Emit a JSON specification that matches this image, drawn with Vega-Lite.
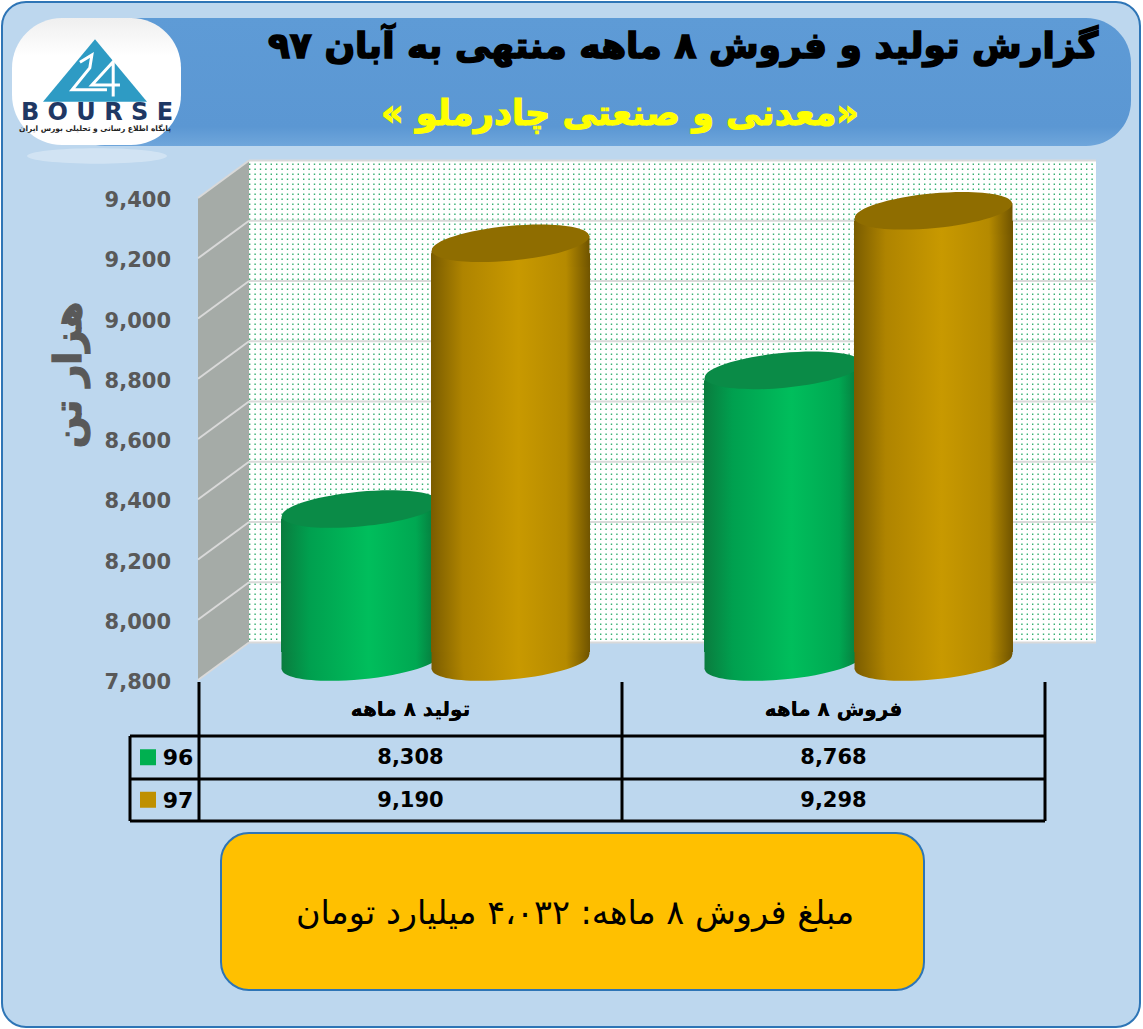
{"$schema":"https://vega.github.io/schema/vega-lite/v6.json","width":1143,"height":1029,"padding":0,"autosize":{"type":"none"},"background":"#FFFFFF","config":{"view":{"stroke":null},"axis":{"domain":false,"ticks":false,"labels":false,"grid":false},"style":{"text":{"font":"DejaVu Sans"}}},
"datasets":{"rows":[{"category":"تولید ۸ ماهه","series":"96","value":8308},{"category":"تولید ۸ ماهه","series":"97","value":9190},{"category":"فروش ۸ ماهه","series":"96","value":8768},{"category":"فروش ۸ ماهه","series":"97","value":9298}],"series":[{"series":"96"},{"series":"97"}],"levels":[{"level":7800},{"level":8000},{"level":8200},{"level":8400},{"level":8600},{"level":8800},{"level":9000},{"level":9200},{"level":9400}],"one":[{"note":"panel"}]},
"layer":[
{"data":{"name":"one"},"layer":[
{"mark":{"type":"rect","fill":"#BDD7EE","stroke":"#2E75B6","strokeWidth":2,"cornerRadius":24},"encoding":{"x":{"datum":2,"type":"quantitative","scale":{"domain":[0,1143],"nice":false,"zero":false}},"x2":{"datum":1140},"y":{"datum":2,"type":"quantitative","scale":{"domain":[1029,0],"nice":false,"zero":false}},"y2":{"datum":1027}}},
{"mark":{"type":"rect","fill":{"gradient":"linear","x1":0,"x2":0,"y1":0,"y2":1,"stops":[{"offset":0,"color":"#5E9BD6"},{"offset":0.85,"color":"#5B97D3"},{"offset":1,"color":"#6FA6DB"}]},"cornerRadius":45},"encoding":{"x":{"datum":60},"x2":{"datum":1131},"y":{"datum":18},"y2":{"datum":146}}},
{"mark":{"type":"point","shape":"M-1,0 C-1,-0.06 -0.5523,-0.11 0,-0.11 C0.5523,-0.11 1,-0.06 1,0 C1,0.06 0.5523,0.11 0,0.11 C-0.5523,0.11 -1,0.06 -1,0 Z","filled":true,"fill":"#FFFFFF","opacity":0.3,"strokeWidth":0,"size":19600},"encoding":{"x":{"datum":97},"y":{"datum":156}}},
{"mark":{"type":"rect","fill":{"gradient":"linear","x1":0,"x2":0,"y1":0,"y2":1,"stops":[{"offset":0,"color":"#EFEFEF"},{"offset":0.3,"color":"#FFFFFF"},{"offset":1,"color":"#FFFFFF"}]},"cornerRadius":50},"encoding":{"x":{"datum":12},"x2":{"datum":181},"y":{"datum":18},"y2":{"datum":145}}},
{"mark":{"type":"point","shape":"M0,-0.6 L1,0.6 L-1,0.6 Z","filled":true,"fill":"#2E9BC4","opacity":1,"strokeWidth":0,"size":10816},"encoding":{"x":{"datum":95},"y":{"datum":70.5}}},
{"mark":{"type":"point","shape":"M-0.29,-0.16 L-0.06,-0.3 L-0.1,-0.05 L-0.44,0.37 L0.23,0.37 M0.38,-0.2 L-0.06,0.28 L0.48,0.28 M0.35,-0.16 L0.35,0.5","filled":false,"stroke":"#FFFFFF","strokeWidth":3,"opacity":1,"size":10816},"encoding":{"x":{"datum":95},"y":{"datum":70.5}}},
{"mark":{"type":"text","text":"B O U R S E","font":"DejaVu Sans","fontWeight":"bold","fontSize":24,"fill":"#1F3864"},"encoding":{"x":{"datum":97},"y":{"datum":113}}},
{"mark":{"type":"text","text":"پایگاه اطلاع رسانی و تحلیلی بورس ایران","font":"DejaVu Sans","fontWeight":"bold","fontSize":7.5,"fill":"#222222"},"encoding":{"x":{"datum":95},"y":{"datum":129}}},
{"mark":{"type":"rect","fill":"#FFFFFF"},"encoding":{"x":{"datum":249},"x2":{"datum":1096},"y":{"datum":160},"y2":{"datum":643}}},
{"mark":{"type":"rule","stroke":"#35B070","strokeWidth":483,"strokeDash":[1.4,4]},"encoding":{"x":{"datum":249},"x2":{"datum":1096},"y":{"datum":401.5}}},
{"mark":{"type":"rule","stroke":"#FFFFFF","strokeWidth":847,"strokeDash":[3.6,1.4]},"encoding":{"x":{"datum":672.5},"y":{"datum":160},"y2":{"datum":643}}},
{"mark":{"type":"point","shape":"M-1,-8.706 L1,-10.196 L1,8.745 L-1,10.196 Z","filled":true,"fill":"#A5ABA7","opacity":1,"strokeWidth":0,"size":2601},"encoding":{"x":{"datum":223.5},"y":{"datum":420}}},
{"mark":{"type":"rect","fill":"#FFC000","stroke":"#2E75B6","strokeWidth":2,"cornerRadius":28},"encoding":{"x":{"datum":221},"x2":{"datum":924},"y":{"datum":833},"y2":{"datum":990}}},
{"mark":{"type":"text","text":"گزارش تولید و فروش ۸ ماهه منتهی به آبان ۹۷","font":"DejaVu Sans","fontWeight":"bold","fontSize":36,"fill":"#000000","stroke":"#000000","strokeWidth":1.6},"encoding":{"x":{"datum":683},"y":{"datum":47}}},
{"mark":{"type":"text","text":"‏«معدنی و صنعتی چادرملو »‏","font":"DejaVu Sans","fontWeight":"bold","fontSize":35,"fill":"#FFFF00","stroke":"#FFFF00","strokeWidth":1.2},"encoding":{"x":{"datum":620},"y":{"datum":114}}},
{"mark":{"type":"text","text":"هزار تن","font":"DejaVu Sans","fontWeight":"bold","fontSize":38,"angle":270,"fill":"#595959","stroke":"#595959","strokeWidth":1.2},"encoding":{"x":{"datum":70},"y":{"datum":375}}},
{"mark":{"type":"text","text":"مبلغ فروش ۸ ماهه: ۴،۰۳۲ میلیارد تومان","font":"DejaVu Sans","fontSize":33.5,"fill":"#000000"},"encoding":{"x":{"datum":575},"y":{"datum":914}}},
{"mark":{"type":"rule","stroke":"#000000","strokeWidth":3},"encoding":{"x":{"datum":199},"y":{"datum":682},"y2":{"datum":821}}},
{"mark":{"type":"rule","stroke":"#000000","strokeWidth":3},"encoding":{"x":{"datum":622},"y":{"datum":682},"y2":{"datum":821}}},
{"mark":{"type":"rule","stroke":"#000000","strokeWidth":3},"encoding":{"x":{"datum":1045},"y":{"datum":682},"y2":{"datum":821}}},
{"mark":{"type":"rule","stroke":"#000000","strokeWidth":3},"encoding":{"x":{"datum":130},"y":{"datum":736},"y2":{"datum":821}}},
{"mark":{"type":"rule","stroke":"#000000","strokeWidth":3},"encoding":{"x":{"datum":130},"x2":{"datum":1045},"y":{"datum":736}}},
{"mark":{"type":"rule","stroke":"#000000","strokeWidth":3},"encoding":{"x":{"datum":130},"x2":{"datum":1045},"y":{"datum":779}}},
{"mark":{"type":"rule","stroke":"#000000","strokeWidth":3},"encoding":{"x":{"datum":130},"x2":{"datum":1045},"y":{"datum":821}}}
]},
{"data":{"name":"levels"},"layer":[
{"mark":{"type":"rule","stroke":"#D9D9D9","strokeWidth":2,"yOffset":-37.5},"encoding":{"x":{"datum":249,"type":"quantitative","scale":{"domain":[0,1143],"nice":false,"zero":false},"axis":null},"x2":{"datum":1096},"y":{"field":"level","type":"quantitative","axis":null,"scale":{"domain":[6641.5,10057.3],"nice":false,"zero":false}}}},
{"mark":{"type":"rule","stroke":"#D9D9D9","strokeWidth":2,"y2Offset":-37.5},"encoding":{"x":{"datum":198,"axis":null},"x2":{"datum":249},"y":{"field":"level","type":"quantitative","axis":null},"y2":{"field":"level"}}},
{"mark":{"type":"text","align":"right","baseline":"middle","font":"DejaVu Sans","fontWeight":"bold","fontSize":21,"fill":"#595959","yOffset":3},"encoding":{"x":{"datum":171,"axis":null},"y":{"field":"level","type":"quantitative","axis":null},"text":{"field":"level","type":"quantitative","format":","}}}
]},
{"data":{"name":"rows"},"encoding":{"x":{"field":"category","type":"nominal","axis":null,"scale":{"domain":["تولید ۸ ماهه","فروش ۸ ماهه"],"range":[224,1070],"paddingInner":0,"paddingOuter":0}},"xOffset":{"field":"series","type":"nominal","scale":{"domain":["96","97"],"paddingInner":0,"paddingOuter":0.41}}},"layer":[
{"transform":[{"filter":"datum.series=='96'"}],"mark":{"type":"point","shape":"M-1,0 C-1,-0.1215 -0.5523,-0.22 0,-0.22 C0.5523,-0.22 1,-0.1215 1,0 C1,0.1215 0.5523,0.22 0,0.22 C-0.5523,0.22 -1,0.1215 -1,0 Z","angle":-5.4,"filled":true,"opacity":1,"strokeWidth":0,"size":24964,"yOffset":-18,"fill":{"gradient":"linear","x1":0,"x2":1,"y1":0,"y2":0,"stops":[{"offset":0,"color":"#0A7C3E"},{"offset":0.18,"color":"#00A04F"},{"offset":0.55,"color":"#00BE5C"},{"offset":0.85,"color":"#00A852"},{"offset":1,"color":"#087038"}]}},"encoding":{"y":{"datum":7800,"type":"quantitative","axis":null,"scale":{"domain":[6641.5,10057.3],"nice":false,"zero":false}}}},
{"transform":[{"filter":"datum.series=='96'"}],"mark":{"type":"point","shape":"M-1,-0.3 L1,-0.3 L1,-0.094 L-1,0.094 Z","filled":true,"opacity":1,"strokeWidth":0,"size":24964,"yOffset":-18,"fill":{"gradient":"linear","x1":0,"x2":1,"y1":0,"y2":0,"stops":[{"offset":0,"color":"#0A7C3E"},{"offset":0.18,"color":"#00A04F"},{"offset":0.55,"color":"#00BE5C"},{"offset":0.85,"color":"#00A852"},{"offset":1,"color":"#087038"}]}},"encoding":{"y":{"datum":7800,"type":"quantitative","axis":null}}},
{"transform":[{"filter":"datum.series=='96'"}],"mark":{"type":"bar","width":159,"yOffset":-8,"y2Offset":-28,"fill":{"gradient":"linear","x1":0,"x2":1,"y1":0,"y2":0,"stops":[{"offset":0,"color":"#0A7C3E"},{"offset":0.18,"color":"#00A04F"},{"offset":0.55,"color":"#00BE5C"},{"offset":0.85,"color":"#00A852"},{"offset":1,"color":"#087038"}]}},"encoding":{"y":{"field":"value","type":"quantitative","axis":null},"y2":{"datum":7800}}},
{"transform":[{"filter":"datum.series=='96'"}],"mark":{"type":"point","shape":"M-1,0.094 L1,-0.094 L1,0.3 L-1,0.3 Z","filled":true,"opacity":1,"strokeWidth":0,"size":24964,"yOffset":-18,"fill":{"gradient":"linear","x1":0,"x2":1,"y1":0,"y2":0,"stops":[{"offset":0,"color":"#0A7C3E"},{"offset":0.18,"color":"#00A04F"},{"offset":0.55,"color":"#00BE5C"},{"offset":0.85,"color":"#00A852"},{"offset":1,"color":"#087038"}]}},"encoding":{"y":{"field":"value","type":"quantitative","axis":null}}},
{"transform":[{"filter":"datum.series=='96'"}],"mark":{"type":"point","shape":"M-1,0 C-1,-0.1215 -0.5523,-0.22 0,-0.22 C0.5523,-0.22 1,-0.1215 1,0 C1,0.1215 0.5523,0.22 0,0.22 C-0.5523,0.22 -1,0.1215 -1,0 Z","angle":-5.4,"filled":true,"opacity":1,"strokeWidth":0,"size":24964,"yOffset":-18,"fill":"#0A8B47"},"encoding":{"y":{"field":"value","type":"quantitative","axis":null}}},
{"transform":[{"filter":"datum.series=='97'"}],"mark":{"type":"point","shape":"M-1,0 C-1,-0.1215 -0.5523,-0.22 0,-0.22 C0.5523,-0.22 1,-0.1215 1,0 C1,0.1215 0.5523,0.22 0,0.22 C-0.5523,0.22 -1,0.1215 -1,0 Z","angle":-5.4,"filled":true,"opacity":1,"strokeWidth":0,"size":24964,"yOffset":-18,"fill":{"gradient":"linear","x1":0,"x2":1,"y1":0,"y2":0,"stops":[{"offset":0,"color":"#7A5C00"},{"offset":0.2,"color":"#AF8400"},{"offset":0.55,"color":"#C89900"},{"offset":0.85,"color":"#B58A00"},{"offset":1,"color":"#705400"}]}},"encoding":{"y":{"datum":7800,"type":"quantitative","axis":null}}},
{"transform":[{"filter":"datum.series=='97'"}],"mark":{"type":"point","shape":"M-1,-0.3 L1,-0.3 L1,-0.094 L-1,0.094 Z","filled":true,"opacity":1,"strokeWidth":0,"size":24964,"yOffset":-18,"fill":{"gradient":"linear","x1":0,"x2":1,"y1":0,"y2":0,"stops":[{"offset":0,"color":"#7A5C00"},{"offset":0.2,"color":"#AF8400"},{"offset":0.55,"color":"#C89900"},{"offset":0.85,"color":"#B58A00"},{"offset":1,"color":"#705400"}]}},"encoding":{"y":{"datum":7800,"type":"quantitative","axis":null}}},
{"transform":[{"filter":"datum.series=='97'"}],"mark":{"type":"bar","width":159,"yOffset":-8,"y2Offset":-28,"fill":{"gradient":"linear","x1":0,"x2":1,"y1":0,"y2":0,"stops":[{"offset":0,"color":"#7A5C00"},{"offset":0.2,"color":"#AF8400"},{"offset":0.55,"color":"#C89900"},{"offset":0.85,"color":"#B58A00"},{"offset":1,"color":"#705400"}]}},"encoding":{"y":{"field":"value","type":"quantitative","axis":null},"y2":{"datum":7800}}},
{"transform":[{"filter":"datum.series=='97'"}],"mark":{"type":"point","shape":"M-1,0.094 L1,-0.094 L1,0.3 L-1,0.3 Z","filled":true,"opacity":1,"strokeWidth":0,"size":24964,"yOffset":-18,"fill":{"gradient":"linear","x1":0,"x2":1,"y1":0,"y2":0,"stops":[{"offset":0,"color":"#7A5C00"},{"offset":0.2,"color":"#AF8400"},{"offset":0.55,"color":"#C89900"},{"offset":0.85,"color":"#B58A00"},{"offset":1,"color":"#705400"}]}},"encoding":{"y":{"field":"value","type":"quantitative","axis":null}}},
{"transform":[{"filter":"datum.series=='97'"}],"mark":{"type":"point","shape":"M-1,0 C-1,-0.1215 -0.5523,-0.22 0,-0.22 C0.5523,-0.22 1,-0.1215 1,0 C1,0.1215 0.5523,0.22 0,0.22 C-0.5523,0.22 -1,0.1215 -1,0 Z","angle":-5.4,"filled":true,"opacity":1,"strokeWidth":0,"size":24964,"yOffset":-18,"fill":"#8F6D00"},"encoding":{"y":{"field":"value","type":"quantitative","axis":null}}}
]},
{"data":{"name":"rows"},"layer":[
{"mark":{"type":"text","font":"DejaVu Sans","fontWeight":"bold","fontSize":21,"fill":"#000000","yOffset":1},"encoding":{"x":{"field":"category","type":"nominal","axis":null,"scale":{"domain":["تولید ۸ ماهه","فروش ۸ ماهه"],"range":[199,1045],"paddingInner":0,"paddingOuter":0}},"y":{"field":"series","type":"nominal","axis":null,"scale":{"domain":["96","97"],"range":[736,821],"paddingInner":0,"paddingOuter":0}},"text":{"field":"value","type":"quantitative","format":","}}},
{"mark":{"type":"text","font":"DejaVu Sans","fontWeight":"bold","fontSize":20,"fill":"#000000","yOffset":-47},"encoding":{"x":{"field":"category","type":"nominal","axis":null},"y":{"datum":"96","type":"nominal","axis":null},"text":{"field":"category","type":"nominal"}}}
]},
{"data":{"name":"series"},"layer":[
{"mark":{"type":"point","shape":"square","filled":true,"opacity":1,"strokeWidth":0,"size":256},"encoding":{"x":{"datum":148,"type":"quantitative","axis":null,"scale":{"domain":[0,1143],"nice":false,"zero":false}},"y":{"field":"series","type":"nominal","axis":null,"scale":{"domain":["96","97"],"range":[736,821],"paddingInner":0,"paddingOuter":0}},"fill":{"field":"series","type":"nominal","legend":null,"scale":{"domain":["96","97"],"range":["#00B050","#BF9000"]}}}},
{"mark":{"type":"text","font":"DejaVu Sans","fontWeight":"bold","fontSize":22,"fill":"#000000","yOffset":1},"encoding":{"x":{"datum":178,"axis":null},"y":{"field":"series","type":"nominal","axis":null},"text":{"field":"series","type":"nominal"}}}
]}
],
"resolve":{"scale":{"x":"independent","y":"independent","xOffset":"independent","fill":"independent"}}}
